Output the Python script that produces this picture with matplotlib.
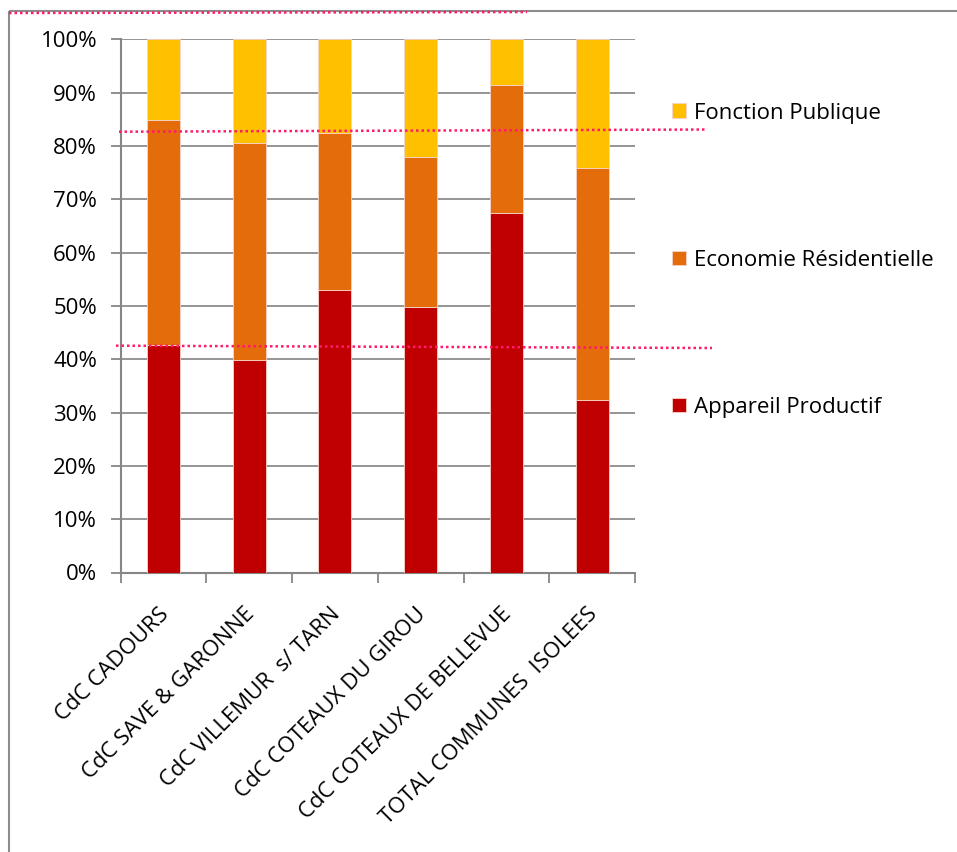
import matplotlib.pyplot as plt
import matplotlib.transforms as mtransforms
from matplotlib.lines import Line2D
from matplotlib.patches import Rectangle
import numpy as np

plt.rcParams['font.family'] = ['Open Sans', 'DejaVu Sans']

categories = ["CdC CADOURS", "CdC SAVE & GARONNE", "CdC VILLEMUR  s/ TARN",
              "CdC COTEAUX DU GIROU", "CdC COTEAUX DE BELLEVUE",
              "TOTAL COMMUNES  ISOLEES"]
appareil = [42.7, 39.9, 52.9, 49.7, 67.5, 32.4]
economie = [42.2, 40.7, 29.6, 28.3, 23.95, 43.4]
fonction = [15.1, 19.4, 17.5, 22.0, 8.55, 24.2]

series = ["Appareil Productif", "Economie Résidentielle", "Fonction Publique"]
colors = ["#C00000", "#E46C0A", "#FFC000"]
FS = 16

W, H = 957, 852
fig = plt.figure(figsize=(W / 100, H / 100), dpi=100)
ax = fig.add_axes([120.7 / W, 1 - 572.5 / H, (635 - 120.7) / W, (572.5 - 39.3) / H])

x = np.arange(len(categories))
bottom = np.zeros(len(categories))
for name, vals, c in zip(series, [appareil, economie, fonction], colors):
    ax.bar(x, vals, 0.385, bottom=bottom, color=c, label=name,
           edgecolor="#f6d2c8", linewidth=0.6, zorder=3)
    bottom += np.array(vals)

ax.set_xlim(-0.5, len(categories) - 0.5)
ax.set_ylim(0, 100)
ax.set_yticks(np.arange(0, 101, 10))
ax.set_yticklabels([f"{v}%" for v in range(0, 101, 10)], fontsize=FS)
ax.yaxis.grid(True, color="#8c8c8c", linewidth=1.3, zorder=0)
ax.set_axisbelow(True)

for s in ["top", "right"]:
    ax.spines[s].set_visible(False)
for s in ["left", "bottom"]:
    ax.spines[s].set_color("#868686")
    ax.spines[s].set_linewidth(1.5)

ax.tick_params(axis="y", length=7, width=1.3, color="#868686", pad=10)

# ticks on category boundaries, labels at bar centres
ax.set_xticks(np.arange(-0.5, len(categories)), minor=True)
ax.tick_params(axis="x", which="minor", length=7, width=1.3, color="#868686")
ax.set_xticks(x)
ax.set_xticklabels(categories, fontsize=FS, rotation=45, ha="right",
                   va="center", rotation_mode="anchor")
ax.tick_params(axis="x", which="major", length=0, pad=28)
offset = mtransforms.ScaledTranslation(2 / 100, 0, fig.dpi_scale_trans)
for lab in ax.get_xticklabels():
    lab.set_transform(lab.get_transform() + offset)

handles, labels = ax.get_legend_handles_labels()
ax.legend(handles[::-1], labels[::-1], loc="upper left",
          bbox_to_anchor=(672 / W, 1 - 102.5 / H), bbox_transform=fig.transFigure,
          frameon=False, fontsize=FS, labelspacing=5.68, handlelength=0.64,
          handleheight=0.64, handletextpad=0.36, borderaxespad=0, borderpad=0)

# chart area border
fig.patches.append(Rectangle((9, H - 11), W + 20, -(H + 20), transform=None,
                             fill=False, edgecolor="#8c8c8c", linewidth=1.5))

# dotted marker lines
marks = [((9, 527), (13, 12)), ((119, 707), (131.7, 129.5)), ((116, 712), (345.7, 348))]
for xs, ys in marks:
    fig.add_artist(Line2D(xs, [H - y for y in ys], transform=None,
                          color="#FF1a6e", linestyle=(0, (1, 1.2)), linewidth=1.8))

fig.savefig("out.png", dpi=100, facecolor="white")
